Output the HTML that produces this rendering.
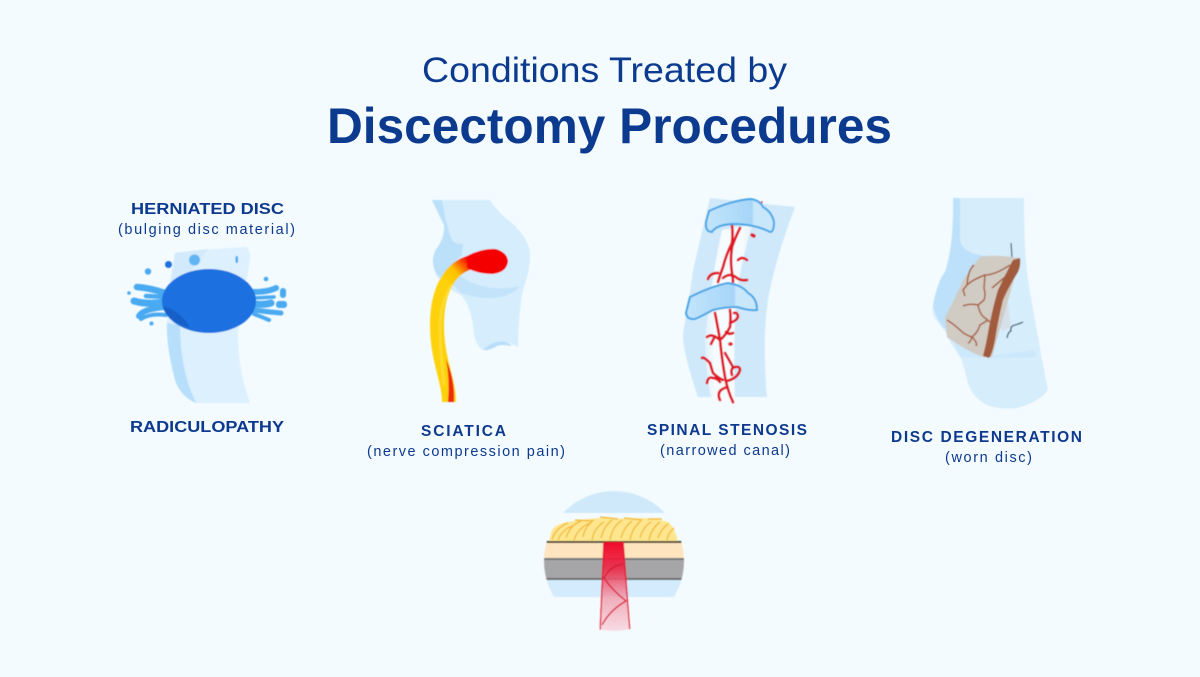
<!DOCTYPE html>
<html><head><meta charset="utf-8"><style>
html,body{margin:0;padding:0;background:#f4fbfe}
svg{display:block}
text{font-family:"Liberation Sans",sans-serif;fill:#0d3a8e;text-anchor:middle}
.h{font-weight:700;font-size:15.5px}
.s{font-size:14.5px}
</style></head><body>
<svg width="1200" height="677" viewBox="0 0 1200 677" xmlns="http://www.w3.org/2000/svg">
<defs>
<linearGradient id="nerve" gradientUnits="userSpaceOnUse" x1="446" y1="282" x2="469" y2="260"><stop offset="0" stop-color="#fdd208"/><stop offset=".45" stop-color="#fdc000"/><stop offset="1" stop-color="#f50606"/></linearGradient>
<linearGradient id="vert" x1="0" x2="1" y1="0" y2="0"><stop offset="0" stop-color="#c2e4fb"/><stop offset=".68" stop-color="#a6d6f8"/><stop offset=".7" stop-color="#c8e7fb"/></linearGradient>
<linearGradient id="cone" x1="0" x2="0" y1="0" y2="1"><stop offset="0" stop-color="#f00a2a"/><stop offset=".3" stop-color="#ee2a48" stop-opacity=".9"/><stop offset=".62" stop-color="#f0a0b0" stop-opacity=".85"/><stop offset="1" stop-color="#f8dbe4" stop-opacity=".9"/></linearGradient>
<linearGradient id="canal" x1="0" x2="1" y1="0" y2="0"><stop offset="0" stop-color="#f2f9fd" stop-opacity=".5"/><stop offset=".2" stop-color="#f6fbfe"/><stop offset=".8" stop-color="#f6fbfe"/><stop offset="1" stop-color="#e6f3fc"/></linearGradient>
<clipPath id="circ"><circle cx="614" cy="561" r="70"/></clipPath>
<filter id="b" x="-5%" y="-5%" width="110%" height="110%"><feGaussianBlur stdDeviation="0.5"/></filter>
</defs>
<rect width="1200" height="677" fill="#f4fbfe"/>

<text x="604.500" y="82" font-size="35" textLength="365" lengthAdjust="spacingAndGlyphs" style="fill:#0b3a8f">Conditions Treated by</text>
<text x="609.500" y="143" font-size="50" font-weight="700" textLength="565" lengthAdjust="spacingAndGlyphs" style="fill:#0b3a8f">Discectomy Procedures</text>

<g filter="url(#b)">
<!-- Icon 1 -->
<path d="M175,253 Q195,250 246,247 Q250,249 250,258 L238,333 Q238,370 250,403 L195,403 Q180,395 175,380 Q166,345 167,323 Q168,285 175,253Z" fill="#dcf0fd"/>
<path d="M167,323 L180,325 Q180,345 183,362 Q187,385 196,403 Q180,396 175,380 Q166,345 167,323Z" fill="#b7defa"/>
<path d="M175,253 Q190,251 208,249 L175,290 L170,290Z" fill="#d2eafc"/>
<g fill="none" stroke="#4aa9f1" stroke-linecap="round">
<path d="M137,287 Q150,288 165,293" stroke-width="6.500"/>
<path d="M146,296 L166,297" stroke-width="4.500"/>
<path d="M134,301 Q148,305 165,302" stroke-width="7"/>
<path d="M139,316 Q143,309 165,307" stroke-width="6"/>
<path d="M141,319 Q150,313 166,315" stroke-width="4"/>
<path d="M253,292 Q268,292 276,288" stroke-width="6"/>
<path d="M254,298 L274,297" stroke-width="3.500"/>
<path d="M254,304 Q265,305 271,303" stroke-width="7"/>
<path d="M254,310 Q268,312 281,313" stroke-width="5"/>
<path d="M254,314 Q262,317 269,320" stroke-width="4"/>
</g>
<circle cx="194.500" cy="260" r="5.500" fill="#62b4f2"/><circle cx="168.500" cy="264.500" r="3.500" fill="#1a6fdf"/><circle cx="148" cy="271.500" r="3.200" fill="#4aa9f1"/><circle cx="129" cy="293" r="1.800" fill="#4aa9f1"/><circle cx="151.500" cy="323.500" r="2" fill="#4aa9f1"/><circle cx="266" cy="279" r="2.300" fill="#4aa9f1"/><rect x="280" y="288" width="6" height="10" rx="3" fill="#4aa9f1"/><rect x="276" y="301" width="11" height="7" rx="3" fill="#4aa9f1"/><rect x="235.500" y="256" width="2.500" height="7" rx="1.200" fill="#4aa9f1"/>
<ellipse cx="209" cy="301" rx="47" ry="32" fill="#1a70e0"/>
<path d="M163,306 Q182,312 190,328 Q168,322 163,306Z" fill="#1560c8"/>

<!-- Icon 2 -->
<path d="M432,200 L490,200 Q500,215 512,223 Q530,240 530,255 Q530,270 525,284 Q519,300 518,347 Q505,340 497,342 Q488,351 483,350 Q474,345 473,325 Q470,305 461,295 Q445,288 436,275 Q432,265 435,250 Q445,238 444,225 Q436,210 432,200Z" fill="#d6edfd"/>
<path d="M432,200 L442,200 Q446,225 452,240 Q458,246 463,243 L462,255 Q452,262 446,282 Q436,275 434,268 Q431,258 436,250 Q445,238 444,225 Q438,212 432,200Z" fill="#bbe0fa"/>
<path d="M459,275 Q485,294 520,286 Q510,298 490,298 Q470,298 460,292 L452,284Z" fill="#c2e3fa"/>
<path d="M483,350 Q490,343 497,342 Q507,340 512,346 Q502,344 497,346 Q489,351 483,350Z" fill="#b8def9"/>
<path d="M449,402 C449,380 437,360 437,325 C437,290 450,267 472,262" fill="none" stroke="url(#nerve)" stroke-width="14"/>
<path d="M444,385 C442,365 440,350 440,328 C440,310 445,295 452,285" fill="none" stroke="#fee96a" stroke-width="3" opacity=".4"/>
<path d="M448,402 L454,402 Q455,380 446,359 Q450,380 448,402Z" fill="#ed2a0c"/>
<path d="M467,256 Q482,248 496,249 Q508,253 508,262 Q506,273 492,274 Q478,274 467,268Z" fill="#f50606"/>

<!-- Icon 3 -->
<path d="M710,198 L795,207 Q775,260 768,300 Q762,340 767,397 L698,397 Q682,350 683,333 Q690,295 693,270Z" fill="#cfe9fb"/>
<path d="M722,230 L752,225 Q742,260 737,290 Q733,330 735,402 L712,402 Q705,370 705,340 Q712,275 722,230Z" fill="url(#canal)"/>
<g fill="none" stroke="#e01220" stroke-width="2.700" stroke-linecap="round" stroke-linejoin="round">
<path d="M732,225 Q733,235 732,243 Q726,255 723,267 Q720,275 718,282"/><path d="M740,228 Q735,238 732,247 Q730,260 732,273 Q733,278 733,282"/>
<path d="M708,279 Q710,273 718,273"/><path d="M723,278 Q730,272 737,278 Q741,281 747,280"/><path d="M738,260 Q742,256 747,260"/>
<path d="M752,235 L754,236" stroke-width="3.500"/>
<path d="M715,313 Q718,328 720,340 Q722,360 725,377 Q728,392 733,402"/><path d="M730,310 Q731,318 730,327 Q726,335 720,340"/>
<path d="M730,323 Q738,320 738,316 Q737,312 734,313"/><path d="M726,332 Q729,335 733,333"/>
<path d="M707,337 Q712,333 720,340"/><path d="M711,344 L714,338"/>
<path d="M730,344 L731,344" stroke-width="3.500"/>
<path d="M702,358 Q703,356 710,363 Q712,370 713,373 Q718,378 723,380"/><path d="M707,383 Q708,376 713,378 Q717,378 720,382"/><path d="M727,381 Q738,378 740,370 Q740,366 735,367 Q730,368 732,375"/><path d="M733,367 Q729,360 725,353"/><path d="M720,400 Q717,394 721,390 Q724,388 727,387"/>
<path d="M757,206 L762,202" stroke-width="1.500"/>
</g>
<path d="M709,211 Q730,201 750,199 Q760,200 763,207 Q772,212 774,222 Q774,232 770,232 Q755,224 732,224 Q716,225 712,232 Q705,232 706,222Z" fill="url(#vert)" stroke="#45a5e6" stroke-width="2"/>
<path d="M690,297 Q712,286 728,283 Q742,285 748,293 Q757,298 757,310 Q750,311 737,307 Q725,307 713,310 Q702,316 695,319 Q687,320 686,313Z" fill="url(#vert)" stroke="#45a5e6" stroke-width="2"/>

<!-- Icon 4 -->
<path d="M953,198 L1024,198 Q1024,250 1028,280 Q1040,350 1048,390 Q1040,402 1017,408 Q1000,410 987,405 Q972,398 967,380 Q963,360 955,345 Q945,332 938,322 Q931,315 933,305 Q938,280 945,272 Q954,245 953,198Z" fill="#d6edfc"/>
<path d="M953,198 L960,198 L960,240 Q962,253 985,256 L960,310 L946,330 Q935,318 933,305 Q938,280 945,272 Q954,245 953,198Z" fill="#bde1fa"/>
<path d="M947,337 L983,357 L1034,350 L1037,357 L1000,358 L960,357Z" fill="#c8e5fb" opacity=".7"/>
<path d="M1007,295 L1011,327 L1003,331 L1000,328Z" fill="#d6e0ea"/>
<path d="M980,257 Q990,254 1020,258 L992,357 L983,357 Q965,350 947,337 L945,317 Q952,305 963,280Z" fill="#d0cbc3"/>
<path d="M1013,260 L1020,258 Q1021,266 1018,272 Q1008,288 1003,300 Q998,320 995,340 Q992,355 989,358 L983,356 Q986,345 988,333 Q992,310 998,290 Q1005,275 1013,260Z" fill="#a25a3e"/>
<g fill="none" stroke="#a8623f" stroke-width="1.500">
<path d="M1010,265 Q995,275 985,275 Q972,280 967,285 Q968,270 974,265"/><path d="M967,285 L963,290 L965,296"/><path d="M985,275 L984,288 Q986,295 984,300 L978,305 Q980,315 985,318 L990,322"/><path d="M1005,277 L992,288"/>
<path d="M978,305 Q970,303 963,306"/>
<path d="M947,320 Q955,325 960,330 Q965,335 972,337 Q978,332 980,325 L988,320"/><path d="M972,337 Q970,343 968,343"/><path d="M972,337 Q978,343 976,346"/>
</g>
<path d="M1011,243 L1012,257" stroke="#3b5a73" stroke-width="1.200" fill="none"/>
<path d="M1007,338 Q1008,332 1011,331 Q1010,326 1015,325 Q1019,324 1023,322" fill="none" stroke="#3b5a73" stroke-width="1.300"/>

<!-- Icon 5 -->
<g clip-path="url(#circ)">
<rect x="540" y="488" width="150" height="25" fill="#cfe9fb"/>
<path d="M549,541 L552,530 Q556,524 568,522 Q600,516 615,519 Q650,516 668,522 Q674,526 678,541Z" fill="#fde68e"/>
<g fill="none" stroke="#f2b52a" stroke-width="1.200">
<path d="M552,539 Q557,527 568,523"/><path d="M558,540 Q562,530 572,526"/><path d="M566,538 Q570,525 581,521"/><path d="M574,540 Q578,528 590,523"/><path d="M583,537 Q585,526 594,520"/><path d="M592,540 Q594,528 604,522"/><path d="M601,538 Q604,526 612,520"/><path d="M610,540 Q612,527 622,520"/><path d="M621,538 Q624,527 632,521"/><path d="M630,540 Q632,528 641,521"/><path d="M640,538 Q643,527 651,522"/><path d="M649,540 Q651,529 660,522"/><path d="M658,538 Q661,529 668,524"/><path d="M667,540 Q668,533 674,528"/>
<path d="M575,520 L592,521 M600,517 L618,519 M624,518 L642,520 M648,519 L662,519"/>
</g>
<rect x="540" y="541" width="150" height="2" fill="#4b4235"/>
<rect x="540" y="543" width="150" height="16" fill="#ffe4c0"/>
<rect x="540" y="559" width="150" height="20" fill="#a6a6a8"/>
<rect x="540" y="558" width="150" height="2" fill="#75767a"/>
<rect x="540" y="578" width="150" height="2" fill="#6a6a6c"/>
<rect x="540" y="580" width="150" height="17" fill="#d3ebfc"/>
<rect x="540" y="597" width="150" height="40" fill="#f4fbfe"/>
<path d="M604,542 L623,542 L630,632 L600,632Z" fill="url(#cone)"/>
<path d="M604,542 L600,632 M623,542 L630,632" stroke="#e5142f" stroke-width="1.400" fill="none"/>
<path d="M623,564 Q610,566 604,578 Q612,590 626,601 Q610,610 602,625" stroke="#d9142e" stroke-width="1.300" fill="none"/>
</g>
</g>

<text class="h" x="207.500" y="214" textLength="153" lengthAdjust="spacingAndGlyphs">HERNIATED DISC</text>
<text class="s" x="206.500" y="234" textLength="177" lengthAdjust="spacing">(bulging disc material)</text>
<text class="h" x="207" y="432" textLength="154" lengthAdjust="spacingAndGlyphs">RADICULOPATHY</text>
<text class="h" x="463.500" y="436" textLength="85" lengthAdjust="spacing">SCIATICA</text>
<text class="s" x="466" y="456" textLength="198" lengthAdjust="spacing">(nerve compression pain)</text>
<text class="h" x="727" y="435" textLength="160" lengthAdjust="spacing">SPINAL STENOSIS</text>
<text class="s" x="725" y="455" textLength="130" lengthAdjust="spacing">(narrowed canal)</text>
<text class="h" x="986.500" y="442" textLength="191" lengthAdjust="spacing">DISC DEGENERATION</text>
<text class="s" x="988.500" y="462" textLength="87" lengthAdjust="spacing">(worn disc)</text>
</svg>
</body></html>
